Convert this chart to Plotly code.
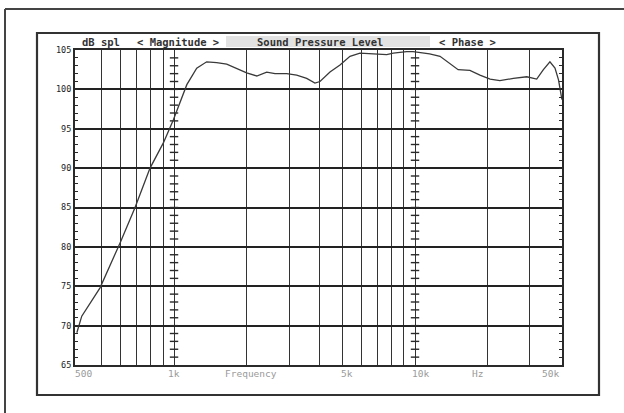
import plotly.graph_objects as go

# ---- data (frequency in Hz, level in dB SPL) ----
freq_hz = [395, 414, 493, 597, 689, 795, 903, 993, 1130, 1242, 1366, 1503, 1654,
           1820, 2002, 2204, 2424, 2625, 2935, 3228, 3552, 3843, 4033, 4437, 4883,
           5372, 5910, 6720, 7630, 8130, 9230, 9820, 11500, 12700, 13900, 15100,
           16900, 18600, 20500, 22500, 25600, 29100, 32000, 34100, 36300, 38100,
           39400, 40300, 40700]
spl_db = [69.1, 71.2, 74.8, 80.5, 85.0, 90.0, 93.2, 96.1, 100.6, 102.7, 103.5, 103.4,
          103.2, 102.7, 102.1, 101.7, 102.2, 102.0, 102.0, 101.8, 101.4, 100.8, 101.0,
          102.2, 103.1, 104.2, 104.6, 104.5, 104.4, 104.6, 104.8, 104.8, 104.5, 104.2,
          103.3, 102.5, 102.4, 101.8, 101.3, 101.1, 101.4, 101.6, 101.3, 102.5, 103.5,
          102.7, 101.2, 99.5, 98.7]

x_grid = [500, 600, 700, 800, 900, 1000, 2000, 3000, 4000, 5000, 6000, 7000, 8000,
          9000, 10000, 20000, 30000]
y_ticks = [65, 70, 75, 80, 85, 90, 95, 100, 105]
y_ticklabels = ["65", "70", "75", "80", "85", "90", "95", "100", "105"]
cursor_freqs = [1000, 10000]

x_labels = ["500", "1k", "Frequency", "5k", "10k", "Hz", "50k"]
header = ["dB spl", "< Magnitude >", "Sound Pressure Level", "< Phase >"]

W, H = 624, 413
L, R, T, B = 75, 562, 50, 365

def px(x):
    return (x - L) / (R - L)

def py(y):
    return 1 - (y - T) / (B - T)

MONO = "DejaVu Sans Mono"
DARK = "#2a2a2a"

fig = go.Figure()

# cursor lines with cross ticks at 1k and 10k
for f in cursor_freqs:
    fig.add_trace(go.Scatter(
        x=[f] * 39, y=list(range(66, 105)), mode="markers",
        marker=dict(symbol="line-ew", size=6, line=dict(width=1.4, color=DARK)),
        hoverinfo="skip", showlegend=False))

fig.add_trace(go.Scatter(x=freq_hz, y=spl_db, mode="lines",
                         line=dict(color="#3a3a3a", width=1.3),
                         showlegend=False))

fig.update_xaxes(type="log", range=[2.589, 4.610], tickvals=x_grid,
                 showticklabels=False, ticks="", showgrid=True,
                 gridcolor="#333333", gridwidth=1.2, zeroline=False,
                 showline=True, linecolor=DARK, linewidth=2, mirror=True)
fig.update_yaxes(range=[65, 105], tickvals=y_ticks, ticktext=y_ticklabels,
                 tickfont=dict(family=MONO, size=8.5, color="#222"),
                 ticks="inside", ticklen=0, showgrid=True,
                 gridcolor="#222222", gridwidth=1.6, zeroline=False,
                 showline=True, linecolor=DARK, linewidth=2, mirror="allticks",
                 minor=dict(dtick=1, ticks="inside", ticklen=3,
                            tickcolor=DARK, tickwidth=1.2, showgrid=False))

shapes = []
# outer frame (top and left)
shapes.append(dict(type="line", xref="paper", yref="paper",
                   x0=px(5), y0=py(9), x1=px(W + 5), y1=py(9),
                   line=dict(color="#444", width=2)))
shapes.append(dict(type="line", xref="paper", yref="paper",
                   x0=px(5), y0=py(9), x1=px(5), y1=py(H + 5),
                   line=dict(color="#444", width=2)))
# inner frame
shapes.append(dict(type="rect", xref="paper", yref="paper",
                   x0=px(37), y0=py(395), x1=px(599), y1=py(33),
                   line=dict(color="#333", width=2.2)))
# header highlight band
shapes.append(dict(type="rect", xref="paper", yref="paper", layer="below",
                   x0=px(226), y0=py(47), x1=px(430), y1=py(36),
                   fillcolor="#e2e2e2", line=dict(width=0)))

annotations = []
header_x = [80, 135, 255, 437]
for txt, hx in zip(header, header_x):
    annotations.append(dict(text="<b>%s</b>" % txt, xref="paper", yref="paper",
                            x=px(hx), y=py(42), xanchor="left", yanchor="middle",
                            showarrow=False,
                            font=dict(family=MONO, size=10.5, color="#333")))
label_x = [83, 174, 251, 347, 420, 477, 550]
for txt, lx in zip(x_labels, label_x):
    annotations.append(dict(text=txt, xref="paper", yref="paper",
                            x=px(lx), y=py(373), xanchor="center", yanchor="middle",
                            showarrow=False,
                            font=dict(family=MONO, size=9.5, color="#9a9a9a")))

fig.update_layout(width=W, height=H, margin=dict(l=L, r=W - R, t=T, b=H - B),
                  paper_bgcolor="white", plot_bgcolor="white",
                  shapes=shapes, annotations=annotations, showlegend=False)

fig.write_html("out.html", config={"displayModeBar": False},
               post_script="document.body.style.margin='0';"
                           "document.body.style.overflow='hidden';")
